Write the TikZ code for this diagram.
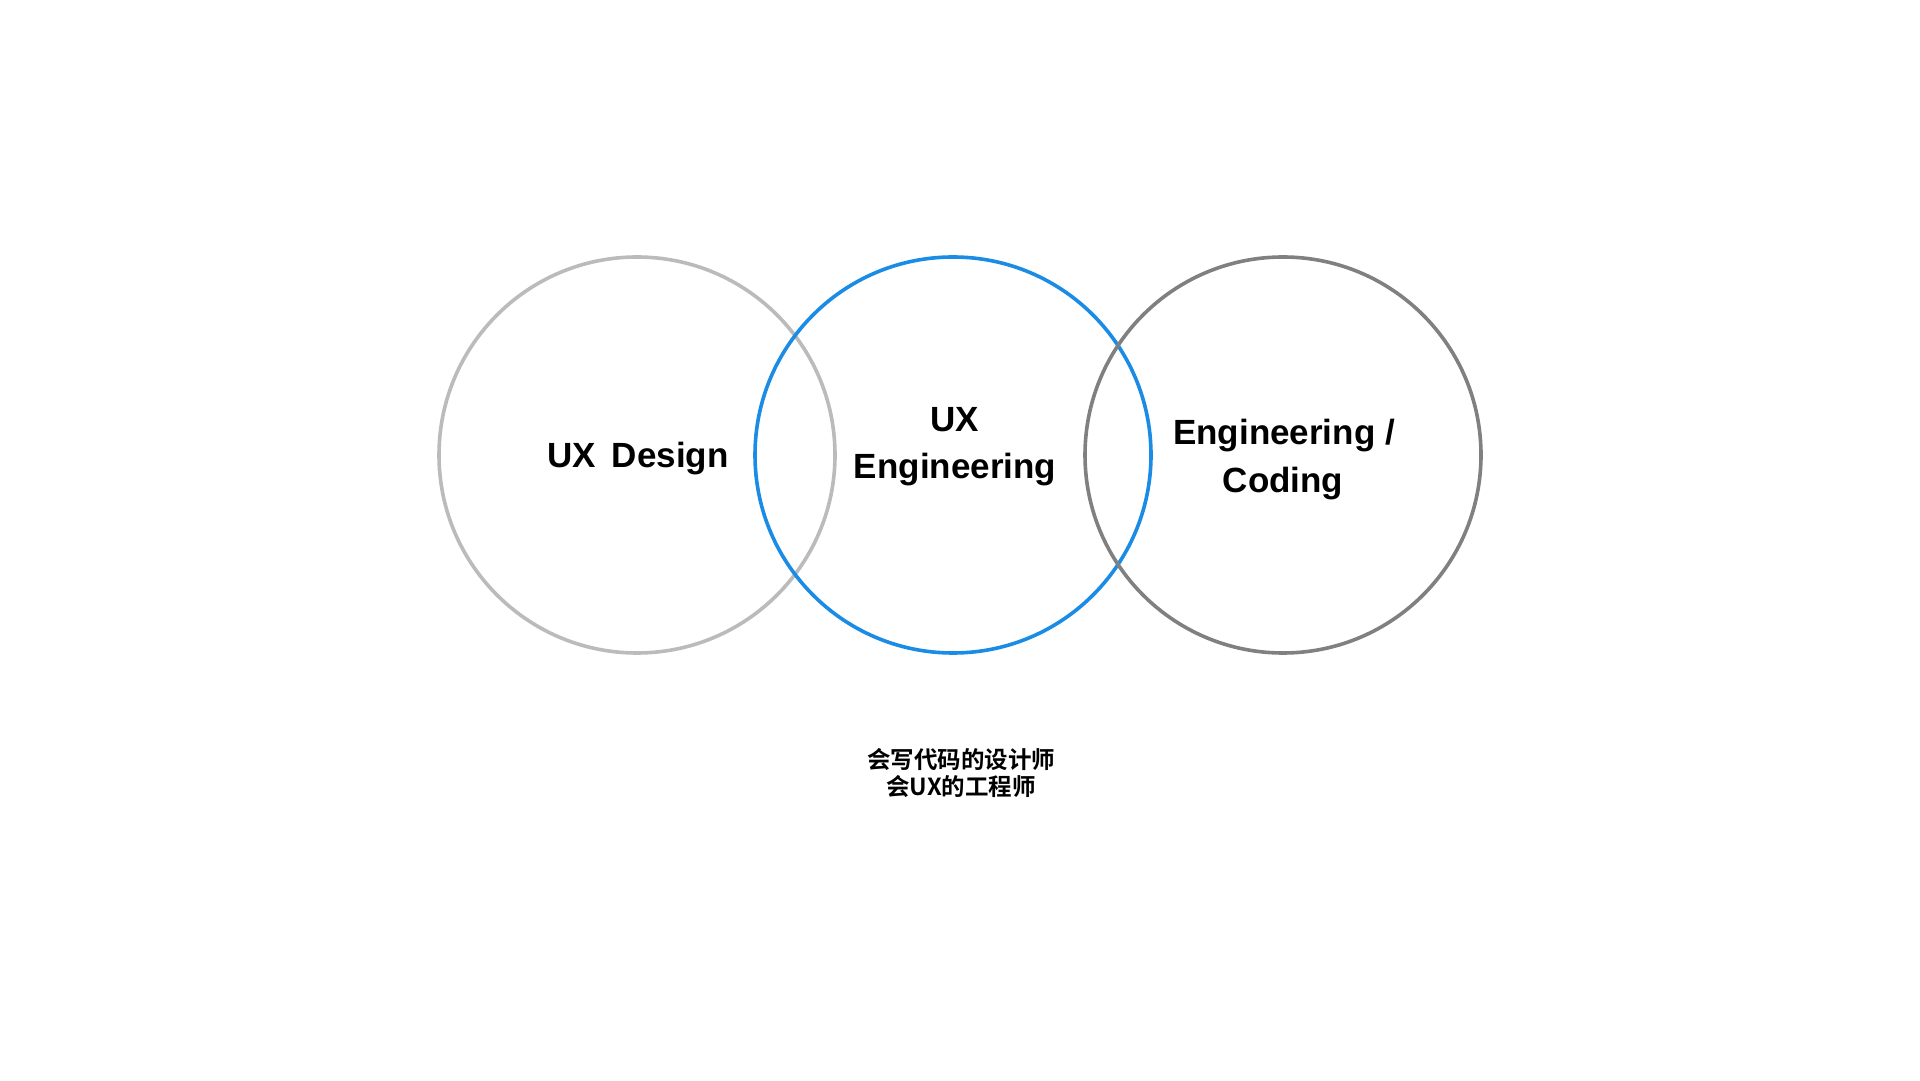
\documentclass[tikz,border=0pt]{standalone}
\usepackage{fontspec}
\setmainfont{Liberation Sans}
\newfontfamily\cjkfont{Noto Sans CJK SC}[BoldFont={* Bold}]
\definecolor{lightgray}{HTML}{BBBBBB}
\definecolor{uxblue}{HTML}{1A8CE6}
\definecolor{darkgray}{HTML}{808080}
\begin{document}
\begin{tikzpicture}[x=1pt,y=1pt,
  ring/.style={circle, line width=3.6pt, minimum size=396pt, inner sep=0pt},
  lbl/.style={font=\fontsize{35}{48}\selectfont\bfseries, align=center, text=black, inner sep=0pt},
  note/.style={font=\cjkfont\fontsize{23.5}{30}\selectfont\bfseries, align=center, text=black, inner sep=0pt}]
\useasboundingbox (0,0) rectangle (1920,1080);
\fill[white] (0,0) rectangle (1920,1080);
\node[ring, draw=lightgray] (design) at (637,625) {};
\node[ring, draw=uxblue] (uxe) at (953,625) {};
\node[ring, draw=darkgray] (coding) at (1283,625) {};
\node[lbl, anchor=base] (t1) at (638,612) {UX\hspace{16pt}Design};
\node[lbl, anchor=base] (t2a) at (955,648) {UX};
\node[lbl, anchor=base] (t2b) at (955,601) {Engineering};
\node[lbl, anchor=base] (t3a) at (1284,635) {Engineering /};
\node[lbl, anchor=base] (t3b) at (1283,587) {Coding};
\node[note, anchor=base] (n1) at (961,312) {会写代码的设计师};
\node[note, anchor=base] (n2) at (961,284) {会UX的工程师};
\end{tikzpicture}
\end{document}
